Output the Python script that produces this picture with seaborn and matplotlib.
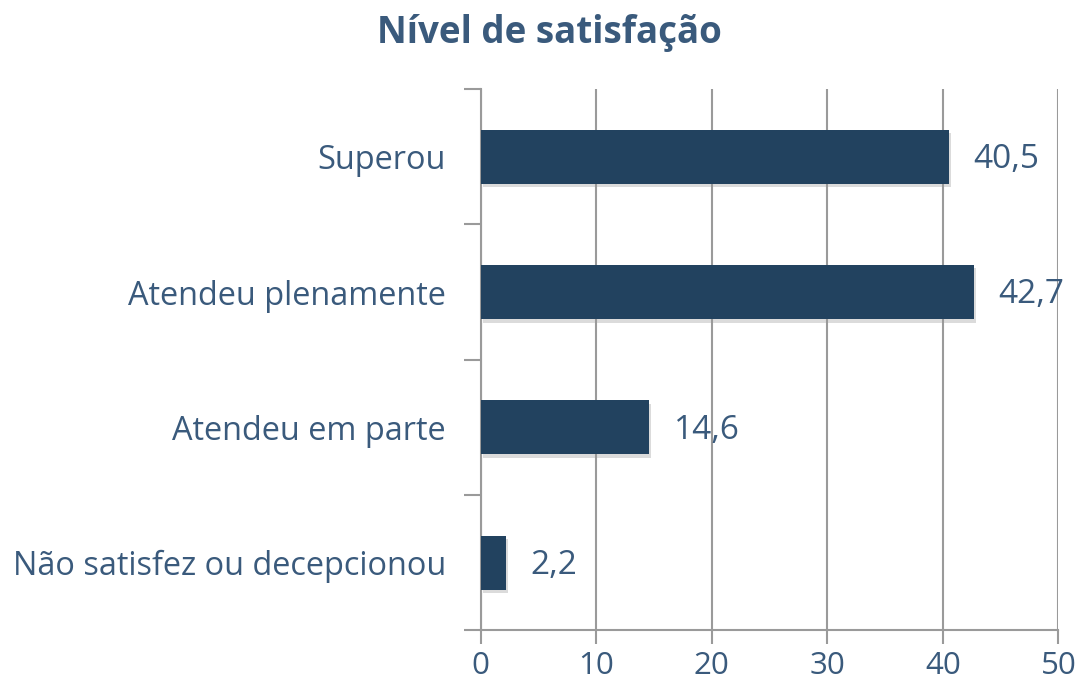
import matplotlib
matplotlib.use('Agg')
import matplotlib.pyplot as plt
import matplotlib.patheffects as pe
import seaborn as sns
import pandas as pd

# dados do gráfico
categorias = ['Superou', 'Atendeu plenamente', 'Atendeu em parte', 'Não satisfez ou decepcionou']
valores = [40.5, 42.7, 14.6, 2.2]
rotulos = ['40,5', '42,7', '14,6', '2,2']
ticks_x = [0, 10, 20, 30, 40, 50]

cor_barra = '#22425F'
cor_texto = '#3A5A7C'
cor_grade = '#9A9A9A'

sns.set_theme(style='white')
plt.rcParams['font.family'] = ['Open Sans', 'DejaVu Sans']

df = pd.DataFrame({'categoria': categorias, 'valor': valores})

fig = plt.figure(figsize=(10.8, 6.91), dpi=100)
ax = fig.add_axes([0.445, 0.088, 0.535, 0.783])

sns.barplot(data=df, x='valor', y='categoria', orient='h', color=cor_barra,
            width=0.4, saturation=1, linewidth=0, ax=ax, zorder=3)

for barra in ax.patches:
    barra.set_path_effects([pe.SimplePatchShadow(offset=(1.5, -2.5), shadow_rgbFace='#999999', alpha=0.35),
                            pe.Normal()])

# rótulos de valor
for i, (v, r) in enumerate(zip(valores, rotulos)):
    ax.text(v + 2.1, i + 0.02, r, va='center', ha='left', fontsize=24, color=cor_texto, zorder=4)

ax.set_xlim(0, 50)
ax.set_ylim(3.5, -0.5)
ax.set_xticks(ticks_x)
ax.set_xticklabels([str(t) for t in ticks_x])
ax.xaxis.grid(True, color=cor_grade, linewidth=1.5, zorder=0)
ax.set_axisbelow(True)

# ticks do eixo y entre categorias
ax.set_yticks([-0.5, 0.5, 1.5, 2.5, 3.5], minor=True)
ax.set_yticks(range(len(categorias)))
ax.set_yticklabels(categorias)
ax.tick_params(axis='y', which='major', length=0, pad=25, labelsize=23.4, labelcolor=cor_texto)
ax.tick_params(axis='y', which='minor', left=True, length=12, width=1.5, color=cor_grade)
ax.tick_params(axis='x', which='major', bottom=True, length=10, width=1.5, color=cor_grade,
               pad=5, labelsize=22.5, labelcolor=cor_texto)

ax.set_xlabel('')
ax.set_ylabel('')
for lado in ['top', 'right']:
    ax.spines[lado].set_visible(False)
for lado in ['left', 'bottom']:
    ax.spines[lado].set_color(cor_grade)
    ax.spines[lado].set_linewidth(1.5)

fig.text(0.509, 0.952, 'Nível de satisfação', ha='center', va='center',
         fontsize=26.5, fontweight='bold', color=cor_texto)

plt.savefig('out.png', dpi=100)
